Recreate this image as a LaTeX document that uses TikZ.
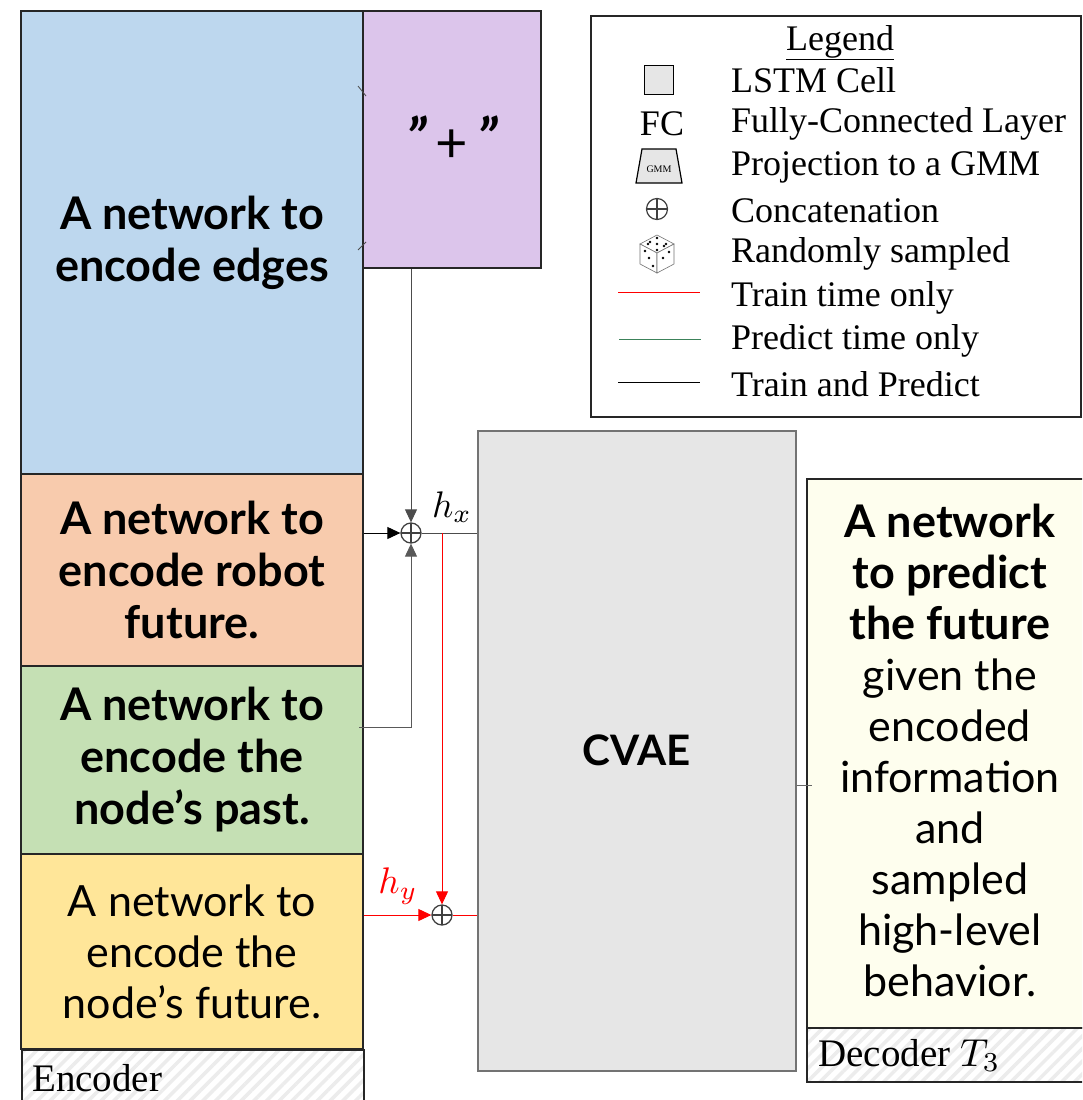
\documentclass[tikz,border=0pt]{standalone}
\usepackage{fontspec}
\setmainfont{Liberation Serif}
\newfontfamily\boxfont{Lato}
\usetikzlibrary{arrows.meta,patterns.meta,calc}
\definecolor{encblue}{RGB}{189,215,238}
\definecolor{encorange}{RGB}{248,203,173}
\definecolor{encgreen}{RGB}{197,224,180}
\definecolor{encyellow}{RGB}{255,230,153}
\definecolor{edgepurple}{RGB}{220,197,235}
\definecolor{decyellow}{RGB}{254,254,238}
\definecolor{cvaegray}{RGB}{230,230,230}
\definecolor{predgreen}{RGB}{60,130,90}
\definecolor{hatch}{RGB}{236,236,236}
\newcommand{\bigmath}[2][3.7]{{\normalsize\scalebox{#1}{$#2$}}}
\newcommand{\bl}[1]{{\bfseries\fontsize{45}{51}\selectfont #1}}
\tikzset{
  encbox/.style={draw=black!85, line width=2pt, inner sep=0pt, align=center},
  boldtext/.style={font=\boxfont\bfseries\fontsize{45}{52}\selectfont},
  plaintext/.style={font=\boxfont\fontsize{43}{51}\selectfont},
  labelbox/.style={draw=black!85, line width=2pt, preaction={fill=white},
    pattern={Lines[angle=45,distance=9pt,line width=3.5pt]}, pattern color=hatch},
  concat/.style={circle, draw=black!75, line width=1.3pt, minimum size=20pt, inner sep=0pt,
    path picture={\draw[black!75, line width=1.3pt]
      (path picture bounding box.north) -- (path picture bounding box.south)
      (path picture bounding box.west) -- (path picture bounding box.east);}},
  arr/.style={-{Triangle[length=13pt,width=12pt]}, line width=1pt},
  legtext/.style={anchor=west, font=\fontsize{36}{40}\selectfont, inner sep=0pt},
}
\begin{document}
\begin{tikzpicture}[x=1pt,y=-1pt]
\useasboundingbox (0,0) rectangle (1082,1100);
\clip (0,0) rectangle (1082,1100);

% encoder column
\node[encbox, boldtext, fill=encblue, minimum width=342pt, minimum height=463pt, anchor=north west]
  (edges) at (20,10) {A network to\\encode edges};
\node[encbox, boldtext, fill=encorange, minimum width=342pt, minimum height=192pt, anchor=north west]
  (robot) at (20,473) {A network to\\encode robot\\future.};
\node[encbox, boldtext, fill=encgreen, minimum width=342pt, minimum height=188pt, anchor=north west]
  (past) at (20,665) {A network to\\encode the\\node’s past.};
\node[encbox, plaintext, fill=encyellow, minimum width=342pt, minimum height=195pt, anchor=north west]
  (future) at (20,853) {A network to\\encode the\\node’s future.};
\node[labelbox, minimum width=342pt, minimum height=62pt, anchor=north west, inner sep=0pt] (enclabel) at (20,1048) {};
\node[anchor=base west, inner sep=0pt, font=\fontsize{39}{40}\selectfont] (enctext) at (32,1091) {Encoder};

% edge aggregation
\node[encbox, fill=edgepurple, minimum width=178pt, minimum height=257pt, anchor=north west,
  font=\boxfont\fontsize{56}{60}\selectfont] (plus) at (362,10)
  {\raisebox{4pt}{\bfseries\itshape ”}\,+\,\raisebox{4pt}{\bfseries\itshape ”}};
\draw[black!70, line width=0.8pt] (358,86) -- (366,96) (358,250) -- (366,242);

% CVAE
\node[draw=black!55, line width=1.5pt, fill=cvaegray, minimum width=318pt, minimum height=640pt,
  anchor=north west, font=\boxfont\bfseries\fontsize{42}{44}\selectfont] (cvae) at (477,430) {CVAE};

% decoder
\node[encbox, fill=decyellow, minimum width=290pt, minimum height=549pt, anchor=north west] (dec) at (806,478) {};
\node[align=center, inner sep=0pt, font=\boxfont\fontsize{43}{51}\selectfont] (dectext) at (950,750)
  {\bl{A network}\\\bl{to predict}\\\bl{the future}\\given the\\encoded\\information\\and\\sampled\\high-level\\behavior.};
\node[labelbox, minimum width=290pt, minimum height=54pt, anchor=north west] (declabel) at (806,1027) {};
\node[anchor=base west, inner sep=0pt, font=\fontsize{39}{40}\selectfont] (dectxt) at (818,1066) {Decoder \bigmath[3.9]{T_3}};

% concatenations
\node[concat] (cx) at (411,533) {};
\node[concat] (cy) at (442,915) {};
\coordinate (pastout) at (359,727);
\coordinate (hxtap) at (442,533);

\draw[arr, black!70] (plus.south -| cx) -- (cx);
\draw[arr, black] (robot.east |- cx) -- (cx);
\draw[arr, black!65] (pastout) -| (cx);
\draw[black!70, line width=1pt] (cx) -- (cvae.west |- cx);
\node[inner sep=0pt] (hx) at (452,507) {\bigmath{h_x}};

\draw[arr, red] (hxtap) -- (cy);
\draw[arr, red] (future.east |- cy) -- (cy);
\draw[red, line width=1pt] (cy) -- (cvae.west |- cy);
\node[inner sep=0pt, text=red] (hy) at (398,886) {\bigmath{h_y}};

\draw[black!60, line width=1pt] (cvae.east |- 0,785) -- (812,785);

% legend
\node[draw=black!85, line width=2pt, fill=white, minimum width=490pt, minimum height=401pt,
  anchor=north west] (legend) at (590,15) {};
\node[font=\fontsize{36}{40}\selectfont, inner sep=0pt, anchor=base] (legtitle) at (840,50) {\underline{Legend}};
\node[draw=black, line width=1.5pt, fill=cvaegray, minimum size=29pt, inner sep=0pt] (lstmicon) at (659,80) {};
\node[font=\fontsize{36}{40}\selectfont, inner sep=0pt] (fcicon) at (662,124) {FC};
\draw[black, line width=1.2pt, fill=cvaegray] (636,183) -- (642,149) -- (676,149) -- (682,183) -- cycle;
\node[font=\fontsize{10}{10}\selectfont, inner sep=0pt] (gmmtext) at (659,169) {GMM};
\node[concat, minimum size=21pt, line width=1.2pt] (cicon) at (657,209) {};
% die
\begin{scope}[shift={(657,254)}]
  \draw[black!55, line width=0.6pt, fill=white] (-17,-10) -- (0,-19) -- (17,-10) -- (0,-1) -- cycle;
  \draw[black!55, line width=0.6pt, fill=white] (-17,-10) -- (0,-1) -- (0,19) -- (-17,10) -- cycle;
  \draw[black!55, line width=0.6pt, fill=white] (17,-10) -- (0,-1) -- (0,19) -- (17,10) -- cycle;
  \foreach \p in {(0,-16),(0,-10),(0,-4),(-9,-10),(9,-10),(-7,-12),(7,-8)}
    \fill[black] \p circle (1.3pt);
  \foreach \p in {(-12,-3),(-8,4),(-4,12),(6,4),(12,-2)}
    \fill[black] \p circle (1.4pt);
\end{scope}
\draw[red, line width=1pt] (618,292) -- (700,292);
\draw[predgreen, line width=1pt] (619,339) -- (701,339);
\draw[black, line width=1pt] (618,382) -- (700,382);
\foreach \y/\t [count=\i] in {80/LSTM Cell,124/Fully-Connected Layer,167/Projection to a GMM,211/Concatenation,
  254/Randomly sampled,298/Train time only,341/Predict time only,384/Train and Predict}
  \node[legtext] (leg\i) at (731,\y) {\t};
\end{tikzpicture}
\end{document}
